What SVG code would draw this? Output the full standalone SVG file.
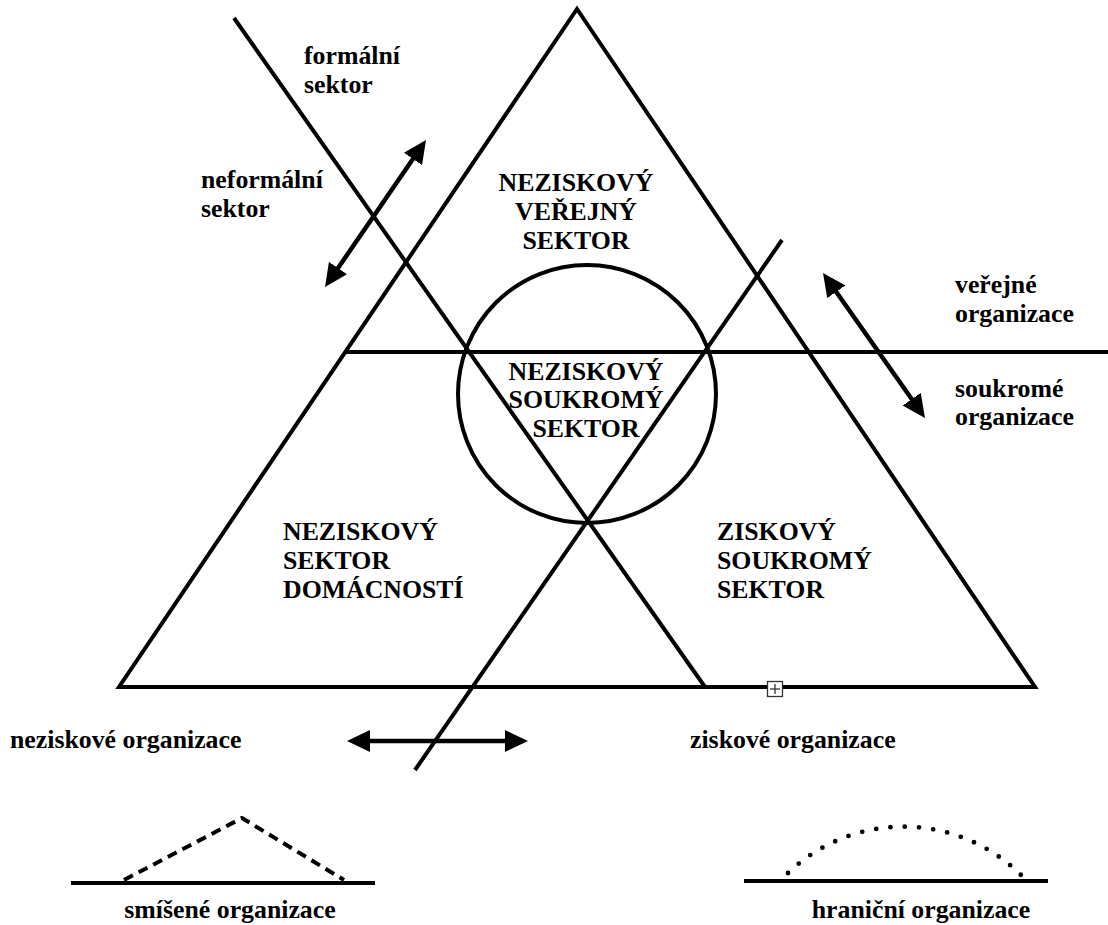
<svg xmlns="http://www.w3.org/2000/svg" width="1108" height="925" viewBox="0 0 1108 925">
<style>
.ln{stroke:#000;stroke-width:4;fill:none;stroke-linecap:butt}
.ar{stroke:#000;stroke-width:4.5;fill:none;marker-start:url(#ah);marker-end:url(#ah)}
text{font-family:"Liberation Serif","Times New Roman",serif;font-weight:bold;font-size:25.8px;fill:#000}
.c{text-anchor:middle}
</style>
<defs>
<marker id="ah" viewBox="0 0 23 22" refX="2" refY="11" markerWidth="23" markerHeight="22" markerUnits="userSpaceOnUse" orient="auto-start-reverse">
<path d="M0,0 L23,11 L0,22 z" fill="#000"/>
</marker>
</defs>
<rect width="1108" height="925" fill="#fff"/>
<g id="connectors">
<polygon id="triangle" class="ln" points="577,9 1035,687 119,687" stroke-linejoin="miter"/>
<line class="ln" x1="345" y1="352" x2="1108" y2="352"/>
<line class="ln" x1="234" y1="18" x2="705" y2="687"/>
<line class="ln" x1="415" y1="770" x2="782" y2="240"/>
<circle class="ln" cx="587" cy="394" r="129"/>
<line class="ar" x1="336.9" y1="269.7" x2="414.1" y2="157.3"/>
<line class="ar" x1="835.1" y1="290.2" x2="912.9" y2="400.8"/>
<line class="ar" x1="368" y1="741" x2="507" y2="741"/>
</g>
<g id="handle">
<rect x="767.5" y="681.5" width="15" height="15" fill="#fff" stroke="#333" stroke-width="1.3"/>
<line x1="770" y1="689" x2="780" y2="689" stroke="#333" stroke-width="1.3"/>
<line x1="775" y1="684" x2="775" y2="694" stroke="#333" stroke-width="1.3"/>
</g>
<g id="n-top">
<text class="c" x="576" y="191">NEZISKOVÝ</text>
<text class="c" x="576" y="220">VEŘEJNÝ</text>
<text class="c" x="576" y="249">SEKTOR</text>
</g>
<g id="n-center">
<text class="c" x="586" y="380">NEZISKOVÝ</text>
<text class="c" x="586" y="408">SOUKROMÝ</text>
<text class="c" x="586" y="437">SEKTOR</text>
</g>
<g id="n-left">
<text x="283" y="540">NEZISKOVÝ</text>
<text x="283" y="569">SEKTOR</text>
<text x="283" y="598">DOMÁCNOSTÍ</text>
</g>
<g id="n-right">
<text x="717" y="540">ZISKOVÝ</text>
<text x="717" y="569">SOUKROMÝ</text>
<text x="717" y="598">SEKTOR</text>
</g>
<g id="l-formal">
<text x="304" y="64">formální</text>
<text x="304" y="93">sektor</text>
</g>
<g id="l-neformal">
<text x="201" y="188">neformální</text>
<text x="201" y="217">sektor</text>
</g>
<g id="l-verejne">
<text x="955" y="293">veřejné</text>
<text x="955" y="322">organizace</text>
</g>
<g id="l-soukrome">
<text x="955" y="397">soukromé</text>
<text x="955" y="425">organizace</text>
</g>
<g id="l-neziskove">
<text x="10" y="748">neziskové organizace</text>
</g>
<g id="l-ziskove">
<text x="690" y="748">ziskové organizace</text>
</g>
<g id="smisene">
<line class="ln" x1="71" y1="883" x2="375" y2="883"/>
<polyline points="124,880 242,818 344,880" fill="none" stroke="#000" stroke-width="4" stroke-dasharray="10 6.5"/>
<text class="c" x="230" y="918">smíšené organizace</text>
</g>
<g id="hranicni">
<line class="ln" x1="744" y1="881" x2="1048" y2="881"/>
<path d="M788,873 A167,167 0 0 1 1022,876" fill="none" stroke="#000" stroke-width="4.8" stroke-linecap="round" stroke-dasharray="0 14.3"/>
<text class="c" x="921" y="918">hraniční organizace</text>
</g>
</svg>
